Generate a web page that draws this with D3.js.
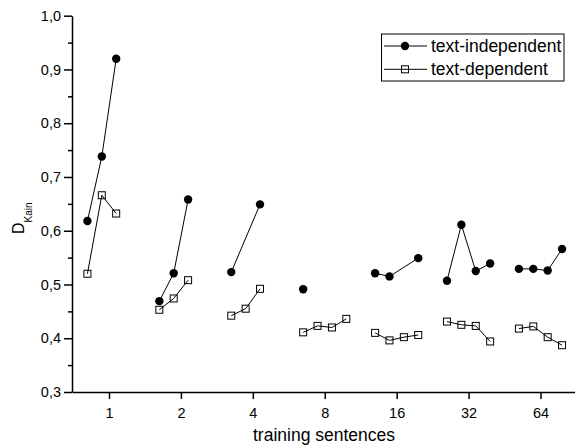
<!DOCTYPE html>
<html>
<head>
<meta charset="utf-8">
<script src="https://cdn.jsdelivr.net/npm/d3@7"></script>
<style>
  body { margin: 0; background: #fff; }
  svg { font-family: "Liberation Sans", Arial, sans-serif; }
</style>
</head>
<body>
<div id="chart"></div>
<script>

// training sentences (x categories) and the sub-slot offsets inside each group (log2 units)
let groups = [1, 2, 4, 8, 16, 32, 64];
let slot_offsets = [-0.3, -0.1, 0.1, 0.3];

// D_Kain per group, one entry per slot, null = no point
let indep_values = [
    [0.618, 0.738, 0.920, null],
    [0.469, 0.521, 0.658, null],
    [0.523, null, 0.649, null],
    [0.491, null, null, null],
    [0.521, 0.515, null, 0.549],
    [0.507, 0.611, 0.525, 0.539],
    [0.529, 0.529, 0.526, 0.566]
];
let dep_values = [
    [0.520, 0.666, 0.632, null],
    [0.453, 0.474, 0.508, null],
    [0.442, 0.455, 0.492, null],
    [0.411, 0.423, 0.420, 0.436],
    [0.410, 0.396, 0.402, 0.406],
    [0.431, 0.425, 0.423, 0.394],
    [0.418, 0.422, 0.402, 0.387]
];

let y_ticks = [0.3, 0.4, 0.5, 0.6, 0.7, 0.8, 0.9, 1.0];
let y_minor_ticks = [0.35, 0.45, 0.55, 0.65, 0.75, 0.85, 0.95];
let series_names = ["text-independent", "text-dependent"];

let chart_width = 575;
let chart_height = 448;

let svg = d3.select("#chart")
            .append("svg")
            .attr("width", chart_width)
            .attr("height", chart_height);

let xScale = d3.scaleLog()
                .base(2)
                .domain([0.7, 91])
                .range([72, 577]);

let yScale = d3.scaleLinear()
                .domain([0.3, 1.0])
                .range([392, 15.7]);

function to_points(values) {
    let segs = [];
    for (let i = 0; i < values.length; i++) {
        let pts = [];
        for (let j = 0; j < values[i].length; j++) {
            if (values[i][j] !== null) {
                pts.push({ x: groups[i] * Math.pow(2, slot_offsets[j]), y: values[i][j] });
            }
        }
        segs.push(pts);
    }
    return segs;
}

let comma_fmt = d => d3.format(".1f")(d).replace(".", ",");

// x axis
let x_axis = svg.append("g")
    .attr("transform", "translate(0,392)")
    .call(d3.axisBottom(xScale)
        .tickValues(groups)
        .tickFormat(d3.format("d"))
        .tickSizeInner(7)
        .tickSizeOuter(0)
        .tickPadding(9));

// minor y ticks
svg.append("g")
    .attr("transform", "translate(72,0)")
    .call(d3.axisLeft(yScale).tickValues(y_minor_ticks).tickSize(4).tickFormat(""))
    .call(g => g.select(".domain").remove());

let y_axis = svg.append("g")
    .attr("transform", "translate(72,0)")
    .call(d3.axisLeft(yScale)
        .tickValues(y_ticks)
        .tickFormat(comma_fmt)
        .tickSizeInner(8)
        .tickSizeOuter(0)
        .tickPadding(3));

svg.selectAll(".domain, .tick line")
    .attr("stroke", "#000")
    .attr("stroke-width", 1.5);

svg.selectAll(".tick text")
    .attr("fill", "#000")
    .style("font-size", "14.5px")
    .style("font-family", "'Liberation Sans', Arial, sans-serif");

let line = d3.line()
    .x(d => xScale(d.x))
    .y(d => yScale(d.y));

// text-independent
let indep_segs = to_points(indep_values);
svg.append("g").selectAll("path")
    .data(indep_segs)
    .enter()
    .append("path")
    .attr("d", d => line(d))
    .attr("fill", "none")
    .attr("stroke", "#000")
    .attr("stroke-width", 1);

svg.append("g").selectAll("circle")
    .data(indep_segs.flat())
    .enter()
    .append("circle")
    .attr("cx", d => xScale(d.x))
    .attr("cy", d => yScale(d.y))
    .attr("r", 4.2)
    .attr("fill", "#000");

// text-dependent
let dep_segs = to_points(dep_values);
svg.append("g").selectAll("path")
    .data(dep_segs)
    .enter()
    .append("path")
    .attr("d", d => line(d))
    .attr("fill", "none")
    .attr("stroke", "#000")
    .attr("stroke-width", 1);

svg.append("g").selectAll("rect")
    .data(dep_segs.flat())
    .enter()
    .append("rect")
    .attr("x", d => xScale(d.x) - 3.5)
    .attr("y", d => yScale(d.y) - 3.5)
    .attr("width", 7)
    .attr("height", 7)
    .attr("fill", "none")
    .attr("stroke", "#000")
    .attr("stroke-width", 1);

// axis titles
svg.append("text")
    .attr("x", 324)
    .attr("y", 441)
    .attr("text-anchor", "middle")
    .style("font-size", "17.5px")
    .text("training sentences");

let y_title = svg.append("text")
    .attr("transform", "translate(24,234) rotate(-90)")
    .attr("text-anchor", "start");
y_title.append("tspan").style("font-size", "16px").text("D");
y_title.append("tspan").attr("dy", 8).style("font-size", "10px").text("Kain");

// legend
let legend = svg.append("g");
legend.append("rect")
    .attr("x", 381.5)
    .attr("y", 34)
    .attr("width", 182.5)
    .attr("height", 47)
    .attr("fill", "#fff")
    .attr("stroke", "#000")
    .attr("stroke-width", 1);

let legend_rows = [46, 69.3];
series_names.forEach(function(name, i) {
    let ly = legend_rows[i];
    legend.append("line")
        .attr("x1", 384).attr("x2", 427)
        .attr("y1", ly).attr("y2", ly)
        .attr("stroke", "#000")
        .attr("stroke-width", 1);
    if (i === 0) {
        legend.append("circle")
            .attr("cx", 405).attr("cy", ly).attr("r", 4.2)
            .attr("fill", "#000");
    }
    else {
        legend.append("rect")
            .attr("x", 401.5).attr("y", ly - 3.5)
            .attr("width", 7).attr("height", 7)
            .attr("fill", "none")
            .attr("stroke", "#000");
    }
    legend.append("text")
        .attr("x", 431)
        .attr("y", ly)
        .attr("dy", "0.35em")
        .style("font-size", "17.5px")
        .text(name);
});

</script>
</body>
</html>
